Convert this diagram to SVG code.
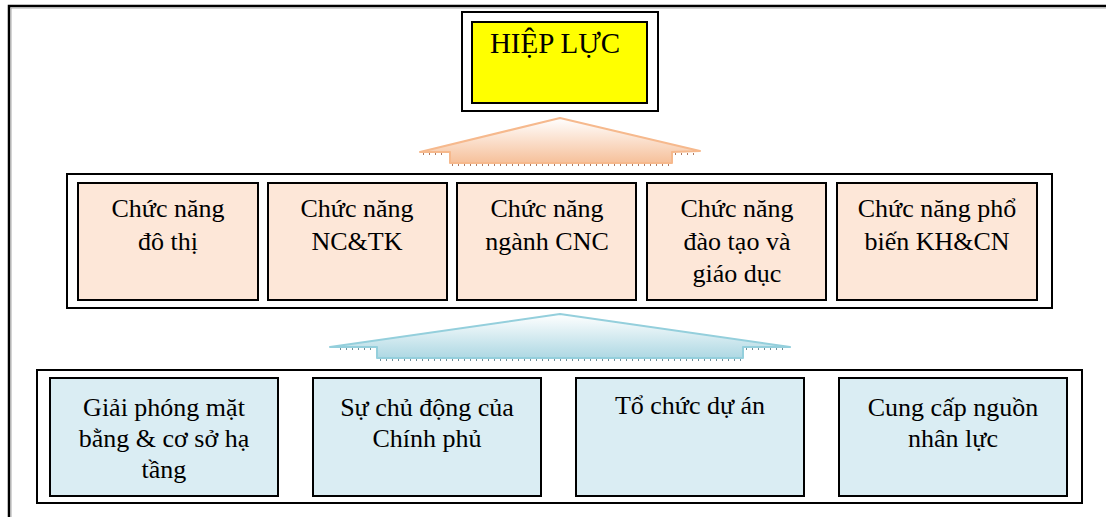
<svg xmlns="http://www.w3.org/2000/svg" width="1106" height="517" viewBox="0 0 1106 517">
<defs>
<linearGradient id="gPeach" x1="0" y1="0" x2="0" y2="1">
<stop offset="0" stop-color="#ffffff"/>
<stop offset="1" stop-color="#f6c09a"/>
</linearGradient>
<linearGradient id="gBlue" x1="0" y1="0" x2="0" y2="1">
<stop offset="0" stop-color="#ffffff"/>
<stop offset="1" stop-color="#aed8e3"/>
</linearGradient>
</defs>
<style>
text{font-family:"Liberation Serif","Times New Roman",serif;font-size:26px;fill:#000;text-anchor:middle}
.frame{fill:#fff;stroke:#000;stroke-width:2}
.peach{fill:#fde7d8;stroke:#000;stroke-width:2}
.blue{fill:#daedf3;stroke:#000;stroke-width:2}
</style>
<rect width="1106" height="517" fill="#fff"/>
<g id="page-frame">
<path d="M9,517 V6 H1106" fill="none" stroke="#000" stroke-width="2.5"/>
<path d="M11,517 V8 H1106" fill="none" stroke="#aaa" stroke-width="1"/>
</g>
<g id="hiep-luc">
<rect x="462" y="12" width="196" height="99" class="frame"/>
<rect x="472" y="22" width="175" height="81" fill="#ffff00" stroke="#000" stroke-width="2"/>
<text x="555" y="53" style="font-size:29px">HIỆP LỰC</text>
</g>
<g id="connectors">
<path d="M420,152 L560,118 L700,151 L672,152 L672,163 L450,163 L450,152 Z" fill="url(#gPeach)" stroke="#f6b98d" stroke-width="2" stroke-linejoin="round"/>
<path d="M452,165 H671 M423,154 H447 M675,154 H698" stroke="#b07a60" stroke-width="2" stroke-dasharray="1 5" fill="none"/>
<path d="M330,347 L560,314 L790,347 L743,347 L743,358 L377,358 L377,347 Z" fill="url(#gBlue)" stroke="#94cfdc" stroke-width="2" stroke-linejoin="round"/>
<path d="M380,360 H743 M340,349 H374 M746,349 H785" stroke="#6f8f99" stroke-width="2" stroke-dasharray="1 5" fill="none"/>
</g>
<g id="functions-frame">
<rect x="67" y="174" width="985" height="134" class="frame"/>
</g>
<g id="fn-do-thi">
<rect x="78" y="183" width="180" height="117" class="peach"/>
<text x="168" y="217">Chức năng</text>
<text x="168" y="250">đô thị</text>
</g>
<g id="fn-nc-tk">
<rect x="268" y="183" width="179" height="117" class="peach"/>
<text x="357" y="217">Chức năng</text>
<text x="357" y="250">NC&amp;TK</text>
</g>
<g id="fn-cnc">
<rect x="457" y="183" width="179" height="117" class="peach"/>
<text x="547" y="217">Chức năng</text>
<text x="547" y="250">ngành CNC</text>
</g>
<g id="fn-dao-tao">
<rect x="647" y="183" width="179" height="117" class="peach"/>
<text x="737" y="217">Chức năng</text>
<text x="737" y="250">đào tạo và</text>
<text x="737" y="282">giáo dục</text>
</g>
<g id="fn-pho-bien">
<rect x="837" y="183" width="200" height="117" class="peach"/>
<text x="937" y="217">Chức năng phổ</text>
<text x="937" y="250">biến KH&amp;CN</text>
</g>
<g id="base-frame">
<rect x="37" y="370" width="1045" height="133" class="frame"/>
</g>
<g id="giai-phong">
<rect x="50" y="378" width="228" height="118" class="blue"/>
<text x="164" y="416">Giải phóng mặt</text>
<text x="164" y="447">bằng &amp; cơ sở hạ</text>
<text x="164" y="478">tầng</text>
</g>
<g id="chinh-phu">
<rect x="313" y="378" width="228" height="118" class="blue"/>
<text x="427" y="416">Sự chủ động của</text>
<text x="427" y="447">Chính phủ</text>
</g>
<g id="to-chuc">
<rect x="576" y="378" width="228" height="118" class="blue"/>
<text x="690" y="414">Tổ chức dự án</text>
</g>
<g id="nhan-luc">
<rect x="839" y="378" width="228" height="118" class="blue"/>
<text x="953" y="416">Cung cấp nguồn</text>
<text x="953" y="447">nhân lực</text>
</g>
</svg>
